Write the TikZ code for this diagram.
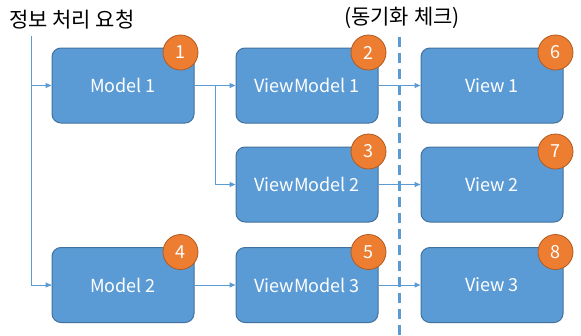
\documentclass[tikz,border=0pt]{standalone}
\usepackage{fontspec}
\setmainfont{Noto Sans CJK KR}
\usetikzlibrary{arrows.meta}
\definecolor{boxfill}{HTML}{5B9BD5}
\definecolor{boxline}{HTML}{41719C}
\definecolor{badgefill}{HTML}{ED7D31}
\definecolor{badgeline}{HTML}{AE5A21}
\tikzset{
  stage/.style={draw=boxline, line width=1pt, fill=boxfill, rounded corners=9pt,
    minimum width=142pt, minimum height=75pt, inner sep=0pt, text=white,
    font=\fontsize{18}{21}\selectfont},
  badge/.style={circle, draw=badgeline, line width=0.8pt, fill=badgefill,
    minimum size=35pt, inner sep=0pt, text=white, font=\fontsize{18}{21}\selectfont},
  flow/.style={draw=boxfill, line width=1pt, -{Triangle[length=6pt,width=5pt]}},
  feed/.style={draw=boxfill, line width=1pt},
  label/.style={inner sep=0pt, font=\fontsize{21}{24}\selectfont}
}
\begin{document}
\begin{tikzpicture}[x=1pt, y=-1pt]
  \useasboundingbox (0,0) rectangle (581,335);

  % pipeline stages
  \node[stage] (m1)  at (123, 85.5)  {Model 1};
  \node[stage] (m2)  at (123, 285)   {Model 2};
  \node[stage] (vm1) at (307, 85.5)  {ViewModel 1};
  \node[stage] (vm2) at (307, 184.5) {ViewModel 2};
  \node[stage] (vm3) at (307, 285)   {ViewModel 3};
  \node[stage] (v1)  at (492, 85.5)  {View 1};
  \node[stage] (v2)  at (492, 184.5) {View 2};
  \node[stage] (v3)  at (492, 285)   {View 3};

  % step numbers
  \foreach \n/\k/\dx in {m1/1/-14, vm1/2/-10, vm2/3/-10, m2/4/-14, vm3/5/-10, v1/6/-8, v2/7/-8, v3/8/-8}
    \node[badge] (b\k) at ([xshift=\dx pt, yshift=-5pt]\n.north east) {\k};

  % captions
  \node[label, anchor=west] (req) at (9, 20) {정보 처리 요청};
  \node[label, anchor=center] (sync) at (402, 18) {(동기화 체크)};

  % synchronisation boundary
  \coordinate (stop) at (399, 37);
  \coordinate (sbot) at (399, 335);
  \draw[boxfill, line width=3pt, dash pattern=on 10pt off 6pt] (stop) -- (sbot);

  % request feed on the left
  \coordinate (feedtop) at (31, 36);
  \draw[feed] (feedtop) |- ([xshift=-1pt]m2.west);
  \draw[flow] (31, 85.5) -- (m1.west);
  \draw[flow] (feedtop |- m2.west) -- (m2.west);

  % model to view-model links
  \coordinate (split) at (215, 85.5);
  \draw[flow] (m1.east) -- (vm1.west);
  \draw[flow] (split) |- (vm2.west);
  \draw[flow] (m2.east) -- (vm3.west);

  % view-model to view links
  \draw[flow] (vm1.east) -- (v1.west);
  \draw[flow] (vm2.east) -- (v2.west);
  \draw[flow] (vm3.east) -- (v3.west);
\end{tikzpicture}
\end{document}
